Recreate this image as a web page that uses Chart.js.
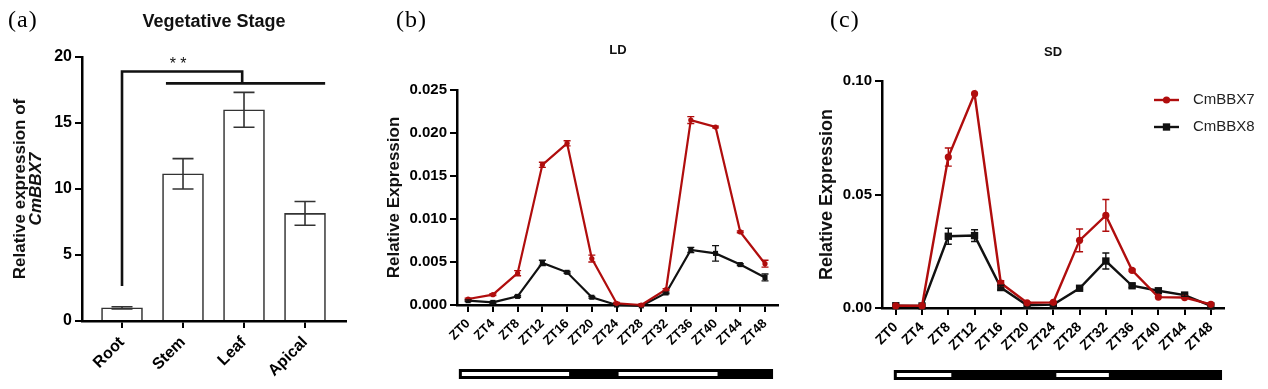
<!DOCTYPE html>
<html><head><meta charset="utf-8">
<script src="https://cdn.jsdelivr.net/npm/chart.js@4.4.1/dist/chart.umd.min.js"></script>
<style>
html,body{margin:0;padding:0;background:#fff;}
body{width:1268px;height:389px;position:relative;overflow:hidden;font-family:"Liberation Sans",Arial,sans-serif;}
.box{position:absolute;top:0;height:389px;}
canvas{display:block;}
.lbl{position:absolute;font-family:"Liberation Serif","Times New Roman",serif;font-size:24px;color:#000;line-height:28px;letter-spacing:1px;}
.ttl{position:absolute;font-weight:bold;color:#111;text-align:center;white-space:nowrap;transform:translateX(-50%);}
.ytitle{position:absolute;font-weight:bold;font-size:17px;color:#111;text-align:center;white-space:nowrap;transform:translate(-50%,-50%) rotate(-90deg);line-height:16px;}
</style></head>
<body>
<div class="box" style="left:0;width:360px"><canvas id="ca" width="360" height="389"></canvas></div>
<div class="box" style="left:380px;width:420px"><canvas id="cb" width="420" height="389"></canvas></div>
<div class="box" style="left:812px;width:456px"><canvas id="cc" width="456" height="389"></canvas></div>
<div class="lbl" style="left:8px;top:5px">(a)</div>
<div class="lbl" style="left:396px;top:5px">(b)</div>
<div class="lbl" style="left:830px;top:5px">(c)</div>
<div class="ttl" style="left:214px;top:10px;font-size:18px;line-height:22px">Vegetative Stage</div>
<div class="ttl" style="left:618px;top:41px;font-size:13px;line-height:18px">LD</div>
<div class="ttl" style="left:1053px;top:43px;font-size:13px;line-height:18px">SD</div>
<div class="ytitle" style="left:28px;top:189px">Relative expression of<br><i>CmBBX7</i></div>
<script>
// ---------- data ----------
const tissues = ['Root', 'Stem', 'Leaf', 'Apical'];
const tissueExpr = [1.0, 11.15, 16.0, 8.15];
const tissueErr = [0.08, 1.15, 1.32, 0.9];
const yTicksA = [0, 5, 10, 15, 20];

const ztHours = [0, 4, 8, 12, 16, 20, 24, 28, 32, 36, 40, 44, 48];
const ztLabels = ['ZT0', 'ZT4', 'ZT8', 'ZT12', 'ZT16', 'ZT20', 'ZT24', 'ZT28', 'ZT32', 'ZT36', 'ZT40', 'ZT44', 'ZT48'];
const seriesNames = ['CmBBX7', 'CmBBX8'];

const ldBBX7 = [0.0007, 0.0012, 0.0037, 0.0163, 0.0188, 0.0054, 0.0002, 0.0000, 0.0018, 0.0215, 0.0207, 0.0085, 0.0048];
const ldBBX7Err = [0.0001, 0.0001, 0.0003, 0.0003, 0.0003, 0.0004, 0.0001, 0.0001, 0.0001, 0.0004, 0.0001, 0.0001, 0.0004];
const ldBBX8 = [0.0005, 0.0003, 0.0010, 0.0049, 0.0038, 0.0009, 0.0000, -0.0001, 0.0014, 0.0064, 0.0060, 0.0047, 0.0032];
const ldBBX8Err = [0.0001, 0.0001, 0.0001, 0.0003, 0.0001, 0.0001, 0, 0, 0.0001, 0.0003, 0.0009, 0.0001, 0.0004];

const sdBBX7 = [0.001, 0.001, 0.0665, 0.0944, 0.011, 0.0023, 0.0025, 0.0298, 0.0408, 0.0166, 0.0048, 0.0046, 0.0016];
const sdBBX7Err = [0, 0, 0.004, 0, 0.001, 0, 0, 0.005, 0.007, 0.0005, 0, 0, 0];
const sdBBX8 = [0.001, 0.0009, 0.0316, 0.0319, 0.009, 0.0012, 0.0015, 0.0087, 0.0207, 0.0098, 0.0076, 0.0057, 0.0009];
const sdBBX8Err = [0, 0, 0.0035, 0.0026, 0.001, 0, 0, 0.0005, 0.0035, 0.0008, 0.0005, 0.0005, 0];

const yTicksLD = [0, 0.005, 0.010, 0.015, 0.020, 0.025];
const yLabelsLD = ['0.000', '0.005', '0.010', '0.015', '0.020', '0.025'];
const yTicksSD = [0, 0.05, 0.10];
const yLabelsSD = ['0.00', '0.05', '0.10'];

const ldLight = [[0, 16], [24, 40]];
const sdLight = [[0, 8], [24, 32]];

// ---------- styling ----------
const RED = '#b00d0d';
const BLK = '#111111';
const FONT = '"Liberation Sans", Arial, Helvetica, sans-serif';
Chart.defaults.font.family = FONT;
Chart.defaults.color = '#000';

// ---------- plugins ----------
const errorBars = {
  id: 'errorBars',
  afterDatasetsDraw(chart) {
    const ctx = chart.ctx;
    const ys = chart.scales.y;
    chart.data.datasets.forEach((ds, di) => {
      if (!ds.errors) return;
      const meta = chart.getDatasetMeta(di);
      ctx.save();
      ctx.strokeStyle = ds.errorColor || ds.borderColor;
      ctx.lineWidth = ds.errorWidth || 1.5;
      meta.data.forEach((el, i) => {
        const e = ds.errors[i];
        if (!e) return;
        const v = ds.data[i].y;
        const x = el.x;
        const yT = ys.getPixelForValue(v + e), yB = ys.getPixelForValue(v - e);
        const c = ds.capWidth / 2;
        ctx.beginPath();
        ctx.moveTo(x, yT); ctx.lineTo(x, yB);
        ctx.moveTo(x - c, yT); ctx.lineTo(x + c, yT);
        ctx.moveTo(x - c, yB); ctx.lineTo(x + c, yB);
        ctx.stroke();
      });
      ctx.restore();
    });
  }
};

const sigPlugin = {
  id: 'sig',
  afterDraw(chart) {
    const { ctx, scales: { x, y } } = chart;
    const P = (a, b) => [x.getPixelForValue(a), y.getPixelForValue(b)];
    ctx.save();
    ctx.strokeStyle = BLK; ctx.lineWidth = 2.6;
    ctx.beginPath();
    ctx.moveTo(...P(0, 2.65)); ctx.lineTo(...P(0, 18.9)); ctx.lineTo(...P(1.97, 18.9)); ctx.lineTo(...P(1.97, 18.0));
    ctx.stroke();
    ctx.beginPath();
    ctx.moveTo(...P(0.72, 18.0)); ctx.lineTo(...P(3.33, 18.0));
    ctx.stroke();
    ctx.font = '16px ' + FONT; ctx.fillStyle = BLK; ctx.textAlign = 'center'; ctx.textBaseline = 'alphabetic';
    ctx.fillText('* *', ...P(0.92, 19.1));
    ctx.restore();
  }
};

const photoBar = {
  id: 'photoBar',
  afterDraw(chart, args, o) {
    if (!o || !o.light) return;
    const { ctx, scales: { x } } = chart;
    const x0 = x.getPixelForValue(o.from), x1 = x.getPixelForValue(o.to);
    ctx.save();
    ctx.fillStyle = '#000';
    ctx.fillRect(x0, o.top, x1 - x0, o.height);
    ctx.fillStyle = '#fff';
    o.light.forEach(([a, b]) => {
      const xa = a <= 0 ? x0 + o.border : x.getPixelForValue(a) + o.shift;
      const xb = x.getPixelForValue(b) + o.shift;
      ctx.fillRect(xa, o.top + o.border, xb - xa, o.height - 2 * o.border);
    });
    ctx.restore();
  }
};

const sideLegend = {
  id: 'sideLegend',
  afterDraw(chart, args, o) {
    if (!o || !o.show) return;
    const { ctx, chartArea } = chart;
    chart.data.datasets.forEach((ds, i) => {
      const y = chartArea.top + o.top + i * o.gap;
      const xs = chartArea.right + o.dx;
      ctx.save();
      ctx.strokeStyle = ds.borderColor; ctx.fillStyle = ds.borderColor; ctx.lineWidth = ds.borderWidth;
      ctx.beginPath(); ctx.moveTo(xs, y); ctx.lineTo(xs + o.len, y); ctx.stroke();
      const cx = xs + o.len / 2;
      if (ds.pointStyle === 'rect') {
        const s = Math.SQRT1_2 * ds.pointRadius;
        ctx.fillRect(cx - s, y - s, 2 * s, 2 * s);
      } else {
        ctx.beginPath(); ctx.arc(cx, y, ds.pointRadius, 0, Math.PI * 2); ctx.fill();
      }
      ctx.font = '15px ' + FONT; ctx.fillStyle = '#222'; ctx.textBaseline = 'middle'; ctx.textAlign = 'left';
      ctx.fillText(ds.label, xs + o.textDx, y);
      ctx.restore();
    });
  }
};

// ---------- chart (a) ----------
const axisGrid = { drawOnChartArea: false, drawTicks: true, tickLength: 7, color: '#000', lineWidth: 2, offset: false };
const axisBorder = { display: true, color: '#000', width: 2.5 };

new Chart(document.getElementById('ca'), {
  type: 'bar',
  data: {
    datasets: [{
      data: tissues.map((t, i) => ({ x: i, y: tissueExpr[i] })),
      errors: tissueErr,
      backgroundColor: '#fff', borderColor: '#333', borderWidth: 1.6,
      barThickness: 41, capWidth: 21, errorColor: '#333', errorWidth: 1.6
    }]
  },
  options: {
    responsive: false, animation: false, devicePixelRatio: 1,
    layout: { padding: { left: 0, right: 14, top: 57, bottom: 0 } },
    plugins: { legend: { display: false }, tooltip: { enabled: false } },
    scales: {
      x: {
        type: 'linear', min: -0.656, max: 3.672, offset: false,
        afterBuildTicks: s => { s.ticks = tissues.map((t, i) => ({ value: i })); },
        afterFit: s => { s.height = 68; },
        ticks: { callback: v => tissues[v], minRotation: 45, maxRotation: 45, autoSkip: false, font: { size: 16, weight: 'bold' }, color: '#000', padding: 5 },
        grid: axisGrid, border: axisBorder
      },
      y: {
        min: 0, max: 20,
        afterBuildTicks: s => { s.ticks = yTicksA.map(v => ({ value: v })); },
        afterFit: s => { s.width = 82; },
        ticks: { callback: (v, i) => String(yTicksA[i]), font: { size: 16, weight: 'bold' }, color: '#000', padding: 3 },
        grid: axisGrid, border: axisBorder
      }
    }
  },
  plugins: [errorBars, sigPlugin]
});

// ---------- charts (b), (c) ----------
function timeChart(id, p) {
  const mk = (vals) => vals.map((v, i) => ({ x: ztHours[i], y: v }));
  return new Chart(document.getElementById(id), {
    type: 'line',
    data: {
      datasets: [
        { label: seriesNames[0], data: mk(p.s1), errors: p.e1, borderColor: RED, backgroundColor: RED,
          borderWidth: p.lw, pointStyle: 'circle', pointRadius: p.r1, pointBorderWidth: 0, tension: 0, clip: false, capWidth: 7, errorWidth: 1.4 },
        { label: seriesNames[1], data: mk(p.s2), errors: p.e2, borderColor: BLK, backgroundColor: BLK,
          borderWidth: p.lw, pointStyle: 'rect', pointRadius: p.r2, pointBorderWidth: 0, tension: 0, clip: false, capWidth: 7, errorWidth: 1.4 }
      ]
    },
    options: {
      responsive: false, animation: false, devicePixelRatio: 1,
      layout: { padding: { left: 0, right: p.padRight, top: p.top, bottom: 0 } },
      plugins: {
        legend: { display: false }, tooltip: { enabled: false },
        photoBar: p.photo,
        sideLegend: p.legend || { show: false }
      },
      scales: {
        x: {
          type: 'linear', min: p.xmin, max: p.xmax, offset: false,
          afterBuildTicks: s => { s.ticks = ztHours.map(v => ({ value: v })); },
          afterFit: s => { s.height = p.xh; },
          ticks: { callback: (v, i) => ztLabels[i], minRotation: 45, maxRotation: 45, autoSkip: false, font: { size: p.xfs, weight: 'bold' }, color: '#000', padding: 4 },
          grid: axisGrid, border: axisBorder
        },
        y: {
          min: p.ymin, max: p.ymax,
          afterBuildTicks: s => { s.ticks = p.yt.map(v => ({ value: v })); },
          afterFit: s => { s.width = p.yw; },
          ticks: { callback: (v, i) => p.yl[i], font: { size: 15, weight: 'bold' }, color: '#000', padding: 3 },
          title: { display: true, text: 'Relative Expression', font: { size: p.tfs, weight: 'bold' }, color: '#111', padding: { top: 4, bottom: 4 } },
          grid: axisGrid, border: axisBorder
        }
      }
    },
    plugins: [errorBars, photoBar, sideLegend]
  });
}

timeChart('cb', {
  s1: ldBBX7, e1: ldBBX7Err, s2: ldBBX8, e2: ldBBX8Err,
  lw: 2.2, r1: 2.6, r2: 3.6,
  padRight: 22, top: 90, xh: 84, yw: 77, xmin: -1.8, xmax: 50.1,
  ymin: 0, ymax: 0.025, yt: yTicksLD, yl: yLabelsLD, xfs: 13, tfs: 17,
  photo: { light: ldLight, from: -1.5, to: 49.3, top: 369, height: 10, border: 3, shift: 2 }
});

timeChart('cc', {
  s1: sdBBX7, e1: sdBBX7Err, s2: sdBBX8, e2: sdBBX8Err,
  lw: 2.4, r1: 3.6, r2: 5.2,
  padRight: 44, top: 81, xh: 81, yw: 70, xmin: -2.1, xmax: 50.0,
  ymin: 0, ymax: 0.10, yt: yTicksSD, yl: yLabelsSD, xfs: 14, tfs: 18,
  photo: { light: sdLight, from: -0.3, to: 49.7, top: 370, height: 10, border: 3, shift: 3 },
  legend: { show: true, top: 19, gap: 27, dx: -70, len: 25, textDx: 39 }
});
</script>
</body></html>
